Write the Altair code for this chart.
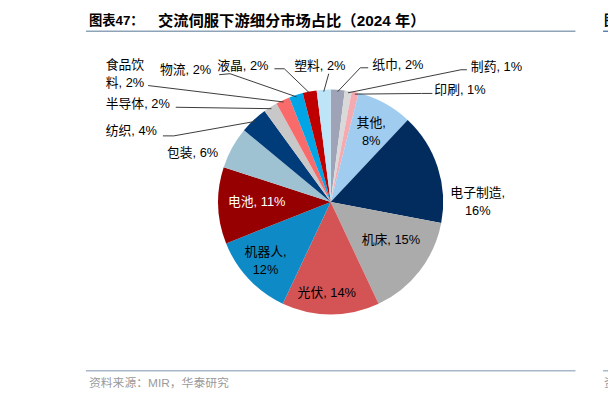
import math
import altair as alt
import pandas as pd

# ---------------- data ----------------
categories = ["纸巾", "制药", "印刷", "其他", "电子制造", "机床", "光伏", "机器人",
              "电池", "包装", "纺织", "半导体", "食品饮料", "物流", "液晶", "塑料"]
shares = [2, 1, 1, 8, 16, 15, 14, 12, 11, 6, 4, 2, 2, 2, 2, 2]
colors = ["#9EA3B7", "#D9D9D9", "#F4AAB0", "#A0CCF0", "#022C5E", "#ABABAB",
          "#D45455", "#0E8BC6", "#960000", "#9EC2D1", "#003B7A", "#C8C8C8",
          "#F96A6B", "#00A5E6", "#BF0000", "#BDE5F7"]

title_a = "图表47："
title_b = "交流伺服下游细分市场占比（2024 年）"
source_text = "资料来源：MIR，华泰研究"

# ---------------- layout (page pixels) ----------------
M = 8
W, H = 608, 387
CX, CY, R = 335, 202, 114
LH = 18
# category: (x, y of first line, align, break index or None, text colour)
label_layout = {
    "其他": (376, 122, "center", 3, "#000000"),
    "电子制造": (484, 193, "center", 5, "#000000"),
    "机床": (396, 241, "center", None, "#000000"),
    "光伏": (331, 294, "center", None, "#000000"),
    "机器人": (269, 253, "center", 4, "#000000"),
    "电池": (260, 202, "center", None, "#FFFFFF"),
    "包装": (195, 152, "center", None, "#000000"),
    "纺织": (107, 130, "left", None, "#000000"),
    "半导体": (107, 103, "left", None, "#000000"),
    "食品饮料": (107, 63, "left", 3, "#000000"),
    "物流": (162, 68, "left", None, "#000000"),
    "液晶": (220, 64, "left", None, "#000000"),
    "塑料": (298, 64, "left", None, "#000000"),
    "纸巾": (377, 63, "left", None, "#000000"),
    "制药": (477, 65, "left", None, "#000000"),
    "印刷": (440, 89, "left", None, "#000000"),
}
leader_layout = {
    "食品饮料": [(150, 84)],
    "半导体": [(178, 106)],
    "纺织": [(165, 135), (176, 135)],
    "物流": [(222, 73), (233, 72)],
    "液晶": [(278, 67), (288, 67)],
    "塑料": [(333, 72)],
    "纸巾": [(373, 66), (365, 66)],
    "制药": [(473, 68), (467, 68)],
    "印刷": [(438, 92), (427, 92)],
}

FONT = "Liberation Sans, Noto Sans CJK SC, sans-serif"

# ---------------- tables ----------------
pie_df = pd.DataFrame({"cat": categories, "share": shares, "idx": range(len(categories))})

total = float(sum(shares))
mid_angle = {}
acc = 0.0
for c, v in zip(categories, shares):
    mid_angle[c] = (acc + v / 2.0) / total * 2 * math.pi
    acc += v

label_rows = []
for c, v in zip(categories, shares):
    x, y, align, brk, col = label_layout[c]
    s = f"{c}, {v}%"
    lines = [s] if brk is None else [s[:brk].strip(), s[brk:].strip()]
    for i, ln in enumerate(lines):
        label_rows.append({"t": ln, "x": x - M, "y": y + i * LH - M, "align": align, "col": col})
label_df = pd.DataFrame(label_rows)

leader_rows = []
for c, pts in leader_layout.items():
    a = mid_angle[c]
    end = (CX + (R - 2) * math.sin(a), CY - (R - 2) * math.cos(a))
    for i, (px_, py_) in enumerate(pts + [end]):
        leader_rows.append({"cat": c, "seq": i, "x": px_ - M, "y": py_ - M})
leader_df = pd.DataFrame(leader_rows)

rules_df = pd.DataFrame([
    {"x1": 87 - M, "x2": 583 - M, "y1": 29 - M, "col": "#8DA3B8"},
    {"x1": 611 - M, "x2": 620 - M, "y1": 29 - M, "col": "#5B80AA"},
    {"x1": 87 - M, "x2": 583 - M, "y1": 373 - M, "col": "#A8B8C8"},
    {"x1": 611 - M, "x2": 620 - M, "y1": 373 - M, "col": "#A8B8C8"},
])

texts_df = pd.DataFrame([
    {"t": title_a, "x": 90 - M, "y": 19 - M, "size": 13.5, "col": "#000000", "w": "bold"},
    {"t": title_b, "x": 160 - M, "y": 19 - M, "size": 15.5, "col": "#000000", "w": "bold"},
    {"t": "图", "x": 612 - M, "y": 19 - M, "size": 13.5, "col": "#000000", "w": "bold"},
    {"t": source_text, "x": 90 - M, "y": 385 - M, "size": 12, "col": "#9A9A9A", "w": "normal"},
    {"t": "资", "x": 612 - M, "y": 385 - M, "size": 12, "col": "#9A9A9A", "w": "normal"},
])

# ---------------- chart ----------------
def px(field):
    return alt.X(f"{field}:Q", scale=None, axis=None)

def py(field):
    return alt.Y(f"{field}:Q", scale=None, axis=None)

pie = alt.Chart(pie_df).mark_arc(outerRadius=R, innerRadius=0, stroke=None).encode(
    theta=alt.Theta("share:Q", stack=True),
    order=alt.Order("idx:Q"),
    color=alt.Color("cat:N", scale=alt.Scale(domain=categories, range=colors), legend=None),
    x=alt.value(CX - M),
    y=alt.value(CY - M),
)

leaders = alt.Chart(leader_df).mark_line(color="#3A3A3A", strokeWidth=1).encode(
    x=px("x"), y=py("y"), detail="cat:N", order="seq:Q"
)

lab_c = alt.Chart(label_df[label_df["align"] == "center"]).mark_text(
    align="center", baseline="middle", font=FONT, fontSize=13
).encode(x=px("x"), y=py("y"), text="t:N", color=alt.Color("col:N", scale=None))

lab_l = alt.Chart(label_df[label_df["align"] == "left"]).mark_text(
    align="left", baseline="middle", font=FONT, fontSize=13
).encode(x=px("x"), y=py("y"), text="t:N", color=alt.Color("col:N", scale=None))

rules = alt.Chart(rules_df).mark_rule(strokeWidth=1.5).encode(
    x=px("x1"), x2="x2:Q", y=py("y1"), color=alt.Color("col:N", scale=None)
)

title_layers = []
for _, r in texts_df.iterrows():
    title_layers.append(
        alt.Chart(pd.DataFrame([r])).mark_text(
            align="left", baseline="middle", font=FONT, fontSize=float(r["size"]),
            fontWeight=r["w"], color=r["col"]
        ).encode(x=px("x"), y=py("y"), text="t:N")
    )

chart = alt.layer(pie, leaders, lab_c, lab_l, rules, *title_layers).properties(
    width=W, height=H, padding=0, autosize=alt.AutoSizeParams(type="none"),
    background="white",
).configure_view(stroke=None)

chart.save("out.html", embed_options={"renderer": "svg", "actions": False})
